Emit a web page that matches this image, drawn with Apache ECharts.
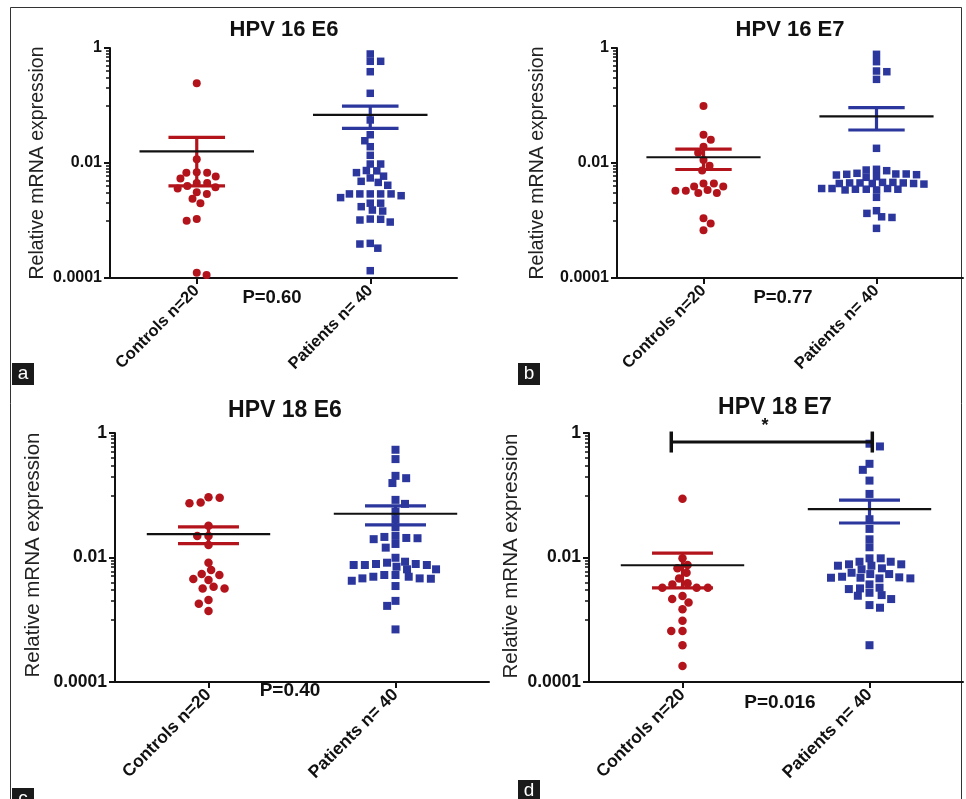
<!DOCTYPE html>
<html><head><meta charset="utf-8">
<script src="https://cdn.jsdelivr.net/npm/echarts@6/dist/echarts.min.js"></script>
<style>html,body{margin:0;padding:0;background:#fff}#c{width:966px;height:799px}</style>
</head><body><div id="c"></div>
<script>
// ---------- data ----------
const categories = ['Controls n=20', 'Patients n= 40'];
const panelTitles = ['HPV 16 E6', 'HPV 16 E7', 'HPV 18 E6', 'HPV 18 E7'];
const pValueTexts = ['P=0.60', 'P=0.77', 'P=0.40', 'P=0.016'];
const panelLetters = ['a', 'b', 'c', 'd'];
const yAxisName = 'Relative mRNA expression';
const yTickValues = [0.0001, 0.01, 1];
const yTickLabels = ['0.0001', '0.01', '1'];
const yMinorTickValues = [0.001, 0.002, 0.003, 0.004, 0.005, 0.006, 0.007, 0.008, 0.009,
                          0.1, 0.2, 0.3, 0.4, 0.5, 0.6, 0.7, 0.8, 0.9];

const hpv16E6Controls = [0.243, 0.0116, 0.0069, 0.0068, 0.0054, 0.0058, 0.0068, 0.0045, 0.0040, 0.0036,
  0.0038, 0.0045, 0.0029, 0.0031, 0.0024, 0.0020, 0.00106, 0.00099, 0.000113, 0.000124];
const hpv16E6Patients = [0.787, 0.587, 0.587, 0.387, 0.163, 0.056, 0.031, 0.0244, 0.0192, 0.0136,
  0.0096, 0.0096, 0.0074, 0.0068, 0.0073, 0.0055, 0.0059, 0.0046, 0.0041, 0.0048,
  0.0029, 0.0029, 0.0029, 0.0025, 0.0027, 0.0029, 0.0029, 0.0020, 0.0020, 0.00152,
  0.00146, 0.00174, 0.00105, 0.00094, 0.00102, 0.00106, 0.00039, 0.00033, 0.0004, 0.000134];
const hpv16E7Controls = [0.098, 0.031, 0.0254, 0.0192, 0.0151, 0.0113, 0.0090, 0.0074, 0.0044, 0.0039,
  0.0034, 0.0033, 0.0030, 0.0030, 0.0033, 0.0039, 0.0044, 0.00109, 0.00089, 0.00068];
const hpv16E7Patients = [0.776, 0.578, 0.398, 0.387, 0.285, 0.018,
  0.00777, 0.00735, 0.00644, 0.00636, 0.00618, 0.00626, 0.00644, 0.00662, 0.00755, 0.00578, 0.00564,
  0.0046, 0.0045, 0.0044, 0.0045, 0.0043, 0.0044, 0.0046, 0.0045, 0.0044,
  0.0036, 0.0035, 0.0034, 0.0035, 0.0036, 0.0034, 0.0035, 0.0036,
  0.00253, 0.00148, 0.00116, 0.00113, 0.00133, 0.00073];
const hpv18E6Controls = [0.093, 0.0763, 0.0746, 0.0908, 0.0325, 0.0222, 0.0222, 0.0159, 0.00825, 0.00542,
  0.00522, 0.0063, 0.00451, 0.00434, 0.00319, 0.00339, 0.00319, 0.00207, 0.0018, 0.00138];
const hpv18E6Patients = [0.538, 0.381, 0.188, 0.205, 0.157, 0.0727, 0.0843, 0.0547, 0.0412, 0.0306,
  0.0214, 0.0206, 0.0222, 0.0165, 0.0197, 0.0204, 0.0144, 0.0099,
  0.00786, 0.00757, 0.00711, 0.00646, 0.00825, 0.00856, 0.00757, 0.00757, 0.00786, 0.00646,
  0.00523, 0.00491, 0.00462, 0.00523, 0.00423, 0.00456, 0.00462, 0.00491,
  0.00348, 0.00201, 0.00167, 0.0007];
const hpv18E7Controls = [0.0877, 0.0097, 0.00757, 0.0067, 0.00569, 0.00462, 0.00385, 0.0037, 0.00327, 0.00327,
  0.00327, 0.0024, 0.0019, 0.00215, 0.00147, 0.00096, 0.00066, 0.00066, 0.00039, 0.00018];
const hpv18E7Patients = [0.673, 0.608, 0.32, 0.256, 0.172, 0.105, 0.0412, 0.0288, 0.0196, 0.0146,
  0.0097, 0.0097, 0.00855, 0.00777, 0.00738, 0.0067, 0.00569, 0.00646, 0.00738, 0.00777,
  0.00855, 0.00542, 0.0048, 0.00473, 0.00462, 0.00462, 0.00473, 0.00491, 0.00542, 0.0037,
  0.00319, 0.00311, 0.00327, 0.00271, 0.00243, 0.00249, 0.00215, 0.00172, 0.00156, 0.00039];
// significance bracket (panel d): [category position, y level]
const hpv18E7Bracket = [[-0.06, 0.716], [1.015, 0.716]];
const hpv18E7Star = '*';

// ---------- layout / style ----------
const RED = '#B3141C', BLUE = '#2B379C', INK = '#111';
const FONT = '"Liberation Sans", Arial, Helvetica, sans-serif';
const panels = [
  {ctrl: hpv16E6Controls, pat: hpv16E6Patients, grid: {left: 110, top: 48, width: 347, height: 230},
   title: [284, 30], name: [38, 163], p: [272, 298], letter: [12, 363], big: false},
  {ctrl: hpv16E7Controls, pat: hpv16E7Patients, grid: {left: 617, top: 48, width: 346, height: 230},
   title: [790, 30], name: [538, 163], p: [783, 298], letter: [518, 363], big: false},
  {ctrl: hpv18E6Controls, pat: hpv18E6Patients, grid: {left: 115, top: 433, width: 374, height: 249},
   title: [285, 411], name: [33, 555], p: [290, 691], letter: [12, 788], big: true},
  {ctrl: hpv18E7Controls, pat: hpv18E7Patients, grid: {left: 589, top: 433, width: 374, height: 249},
   title: [775, 408], name: [511, 556], p: [780, 703], letter: [518, 780], big: true}
];

function mean(a) { return a.reduce((s, v) => s + v, 0) / a.length; }
function sem(a) { const m = mean(a); const sd = Math.sqrt(a.reduce((s, v) => s + (v - m) * (v - m), 0) / (a.length - 1)); return sd / Math.sqrt(a.length); }

// beeswarm: elliptical collision (horizontal spacing s, vertical reach h)
function swarm(pys, s, h) {
  const idx = pys.map((p, i) => i).sort((a, b) => pys[a] - pys[b]);
  const placed = [], off = new Array(pys.length);
  let side = 1;
  for (const i of idx) {
    const y = pys[i], forb = [];
    for (const p of placed) {
      const dy = Math.abs(p.y - y);
      if (dy < h) { const w = s * Math.sqrt(1 - (dy / h) * (dy / h)); forb.push([p.x - w, p.x + w]); }
    }
    const cands = [0];
    forb.forEach(f => cands.push(f[0], f[1]));
    cands.sort((a, b) => (Math.abs(a) - Math.abs(b)) || (side * (b - a)));
    let best = 0;
    for (const c of cands) {
      if (forb.every(f => c <= f[0] + 1e-6 || c >= f[1] - 1e-6)) { best = c; break; }
    }
    if (Math.abs(best) > 1e-6) side = -side;
    off[i] = best; placed.push({x: best, y: y});
  }
  return off;
}

const chart = echarts.init(document.getElementById('c'), null, {renderer: 'canvas'});

const grids = [], xAxes = [], yAxes = [];
panels.forEach((pn, k) => {
  grids.push(Object.assign({containLabel: false}, pn.grid));
  const fs = pn.big ? 17.5 : 16;
  xAxes.push({
    type: 'category', gridIndex: k, data: categories, boundaryGap: true, position: 'bottom',
    axisLine: {show: true, onZero: false, lineStyle: {color: INK, width: 2}},
    axisTick: {show: true, alignWithLabel: true, length: 6, lineStyle: {color: INK, width: 2}},
    axisLabel: {interval: 0, rotate: 45, margin: 10, color: INK, fontSize: pn.big ? 17.5 : 16.5, fontWeight: 'bold', fontFamily: FONT},
    splitLine: {show: false}
  });
  xAxes.push({type: 'value', gridIndex: k, min: -0.5, max: 1.5, show: false, position: 'bottom',
    axisLine: {onZero: false}});
  yAxes.push({
    type: 'log', logBase: 10, gridIndex: k, min: 0.0001, max: 1, position: 'left', offset: 0,
    axisLine: {show: true, onZero: false, lineStyle: {color: INK, width: 2}},
    axisTick: {show: true, length: 6, lineStyle: {color: INK, width: 2}, customValues: yTickValues},
    axisLabel: {show: true, customValues: yTickValues, margin: 8, color: INK, fontSize: fs, fontWeight: 'bold', fontFamily: FONT,
      formatter: function (v) { for (let i = 0; i < yTickValues.length; i++) { if (Math.abs(Math.log10(v) - Math.log10(yTickValues[i])) < 1e-6) return yTickLabels[i]; } return ''; }},
    splitLine: {show: false}
  });
  yAxes.push({
    type: 'log', logBase: 10, gridIndex: k, min: 0.0001, max: 1, position: 'left', offset: 0,
    axisLine: {show: false, onZero: false},
    axisTick: {show: true, length: 4, lineStyle: {color: INK, width: 1.5}, customValues: yMinorTickValues},
    axisLabel: {show: false}, splitLine: {show: false}
  });
});

const graphics = [];
graphics.push({type: 'rect', shape: {x: 10.5, y: 7.5, width: 951, height: 800}, style: {fill: null, stroke: '#333', lineWidth: 1}, z: 0});
panels.forEach((pn, k) => {
  graphics.push({type: 'text', x: pn.title[0], y: pn.title[1], style: {text: panelTitles[k], font: 'bold ' + (pn.big ? 23 : 22) + 'px ' + FONT, fill: INK, align: 'center', verticalAlign: 'middle'}});
  graphics.push({type: 'text', x: pn.name[0], y: pn.name[1], rotation: Math.PI / 2, style: {text: yAxisName, font: (pn.big ? 20.5 : 19.5) + 'px ' + FONT, fill: '#222', align: 'center', verticalAlign: 'middle'}});
  graphics.push({type: 'text', x: pn.p[0], y: pn.p[1], style: {text: pValueTexts[k], font: 'bold ' + (pn.big ? 19 : 18.5) + 'px ' + FONT, fill: INK, align: 'center', verticalAlign: 'middle'}});
  graphics.push({type: 'rect', shape: {x: pn.letter[0], y: pn.letter[1], width: 22, height: 22}, style: {fill: '#1a1a1a'}});
  graphics.push({type: 'text', x: pn.letter[0] + 11, y: pn.letter[1] + 11, style: {text: panelLetters[k], font: '19px ' + FONT, fill: '#fff', align: 'center', verticalAlign: 'middle'}});
});
graphics.push({type: 'text', x: 765, y: 426, style: {text: hpv18E7Star, font: 'bold 18px ' + FONT, fill: INK, align: 'center', verticalAlign: 'middle'}});

chart.setOption({
  animation: false, backgroundColor: '#fff',
  grid: grids, xAxis: xAxes, yAxis: yAxes, graphic: graphics, series: []
});

const series = [];
panels.forEach((pn, k) => {
  const xi = 2 * k + 1, yi = 2 * k;
  const unitPx = chart.convertToPixel({xAxisIndex: xi}, 1) - chart.convertToPixel({xAxisIndex: xi}, 0);
  const s = 0.06 * unitPx, h = pn.big ? 7.5 : 7;
  [[pn.ctrl, 0, 'circle', RED, pn.big ? 8.5 : 8], [pn.pat, 1, 'rect', BLUE, pn.big ? 8 : 7.5]].forEach(g => {
    const vals = g[0];
    const pys = vals.map(v => chart.convertToPixel({yAxisIndex: yi}, v));
    const offs = swarm(pys, s, h);
    series.push({
      type: 'scatter', xAxisIndex: xi, yAxisIndex: yi, symbol: g[2], symbolSize: g[4],
      itemStyle: {color: g[3], opacity: 1}, z: 2, silent: true,
      data: vals.map((v, i) => [g[1] + offs[i] / unitPx, v])
    });
  });
  const stats = [pn.ctrl, pn.pat].map((a, gi) => { const m = mean(a), e = sem(a); return [gi, m, m - e, m + e]; });
  series.push({
    type: 'custom', xAxisIndex: xi, yAxisIndex: yi, z: 5, silent: true,
    encode: {x: 0, y: 1},
    data: stats,
    renderItem: function (params, api) {
      const c = api.value(0), m = api.value(1), lo = api.value(2), hi = api.value(3);
      const col = c === 0 ? RED : BLUE;
      const pHiL = api.coord([c - 0.163, hi]), pHiR = api.coord([c + 0.163, hi]);
      const pLoL = api.coord([c - 0.163, lo]), pLoR = api.coord([c + 0.163, lo]);
      const pHi = api.coord([c, hi]), pLo = api.coord([c, lo]);
      const pmL = api.coord([c - 0.33, m]), pmR = api.coord([c + 0.33, m]);
      const ls = {stroke: col, lineWidth: 3.2};
      return {type: 'group', children: [
        {type: 'line', shape: {x1: pHi[0], y1: pHi[1], x2: pLo[0], y2: pLo[1]}, style: ls},
        {type: 'line', shape: {x1: pHiL[0], y1: pHiL[1], x2: pHiR[0], y2: pHiR[1]}, style: ls},
        {type: 'line', shape: {x1: pLoL[0], y1: pLoL[1], x2: pLoR[0], y2: pLoR[1]}, style: ls},
        {type: 'line', shape: {x1: pmL[0], y1: pmL[1], x2: pmR[0], y2: pmR[1]}, style: {stroke: INK, lineWidth: 2.2}}
      ]};
    }
  });
});
series.push({
  type: 'line', xAxisIndex: 7, yAxisIndex: 6, data: hpv18E7Bracket, z: 6, silent: true,
  symbol: 'rect', symbolSize: [3.5, 21], showSymbol: true, clip: false,
  lineStyle: {color: INK, width: 3}, itemStyle: {color: INK}
});
chart.setOption({series: series});
</script></body></html>
